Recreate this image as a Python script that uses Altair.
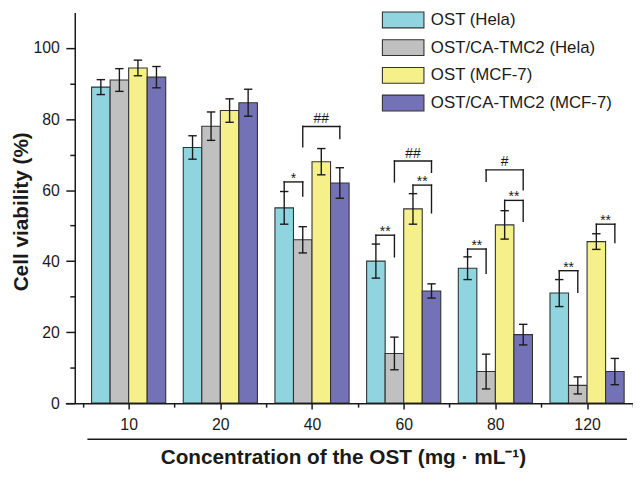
import altair as alt
import pandas as pd

# ---------------- data ----------------
conc = ["10", "20", "40", "60", "80", "120"]
series = ["OST (Hela)", "OST/CA-TMC2 (Hela)", "OST (MCF-7)", "OST/CA-TMC2 (MCF-7)"]
colors = ["#8fd4df", "#c0c0c0", "#f5f08a", "#7472b7"]

ost_hela = [89.0, 72.0, 55.0, 40.0, 38.0, 31.0]
ost_hela_err = [2.1, 3.3, 4.6, 4.8, 3.2, 3.8]
ost_ca_hela = [91.0, 78.0, 46.0, 14.0, 8.9, 5.0]
ost_ca_hela_err = [3.2, 4.0, 3.7, 4.6, 4.9, 2.4]
ost_mcf7 = [94.4, 82.4, 68.0, 54.7, 50.2, 45.5]
ost_mcf7_err = [2.2, 3.3, 3.7, 4.3, 4.0, 2.2]
ost_ca_mcf7 = [91.8, 84.6, 62.0, 31.6, 19.3, 8.9]
ost_ca_mcf7_err = [3.0, 3.8, 4.3, 2.0, 2.9, 3.7]

# significance brackets
sig_conc = ["40", "40", "60", "60", "60", "80", "80", "80", "120", "120"]
sig_from = [0, 1, 0, 1, 2, 0, 1, 2, 0, 2]
sig_to = [1, 3, 1, 3, 3, 1, 3, 3, 1, 3]
sig_top = [62.3, 77.9, 47.3, 68.2, 61.4, 43.4, 65.7, 57.1, 37.3, 50.4]
sig_left_end = [59.6, 72.2, 44.8, 62.3, 59.0, 41.2, 62.5, 54.2, 34.9, 47.9]
sig_right_end = [58.3, 74.5, 41.2, 65.0, 53.6, 36.6, 60.1, 51.2, 31.2, 45.2]
sig_text = ["*", "##", "**", "##", "**", "**", "#", "**", "**", "**"]

# ---------------- layout ----------------
W, H = 574, 395
BAR_FRAC = 0.2022          # width of one bar as a fraction of a group step
X_DOMAIN = [-0.6904, 5.5011]
Y_DOMAIN = [0, 110]
FONT = "Liberation Sans"
INK = "#1a1a1a"

means = [ost_hela, ost_ca_hela, ost_mcf7, ost_ca_mcf7]
errs = [ost_hela_err, ost_ca_hela_err, ost_mcf7_err, ost_ca_mcf7_err]


def center(gi, si):
    return gi + (si - 2) * BAR_FRAC + BAR_FRAC / 2


rows = []
for gi, c in enumerate(conc):
    for si, s in enumerate(series):
        m, e = means[si][gi], errs[si][gi]
        left = gi + (si - 2) * BAR_FRAC
        rows.append(dict(conc=c, series=s, order=si, left=left, right=left + BAR_FRAC,
                         center=center(gi, si), mean=m, lo=m - e, hi=m + e))
bars_df = pd.DataFrame(rows)

segs, labels = [], []
for k in range(len(sig_text)):
    gi = conc.index(sig_conc[k])
    xa, xb = center(gi, sig_from[k]), center(gi, sig_to[k])
    top = sig_top[k]
    segs.append(dict(x=xa, x2=xb, y=top, y2=top))
    segs.append(dict(x=xa, x2=xa, y=sig_left_end[k], y2=top))
    segs.append(dict(x=xb, x2=xb, y=sig_right_end[k], y2=top))
    labels.append(dict(x=(xa + xb) / 2, y=top, mark=sig_text[k]))
seg_df = pd.DataFrame(segs)
lab_df = pd.DataFrame(labels)

xscale = alt.Scale(domain=X_DOMAIN, nice=False, zero=False)
yscale = alt.Scale(domain=Y_DOMAIN, nice=False, zero=False)

x_label_expr = ""
for i, c in enumerate(conc):
    x_label_expr += f"datum.value === {i} ? '{c}' : "
x_label_expr += "''"

xaxis = alt.Axis(
    values=list(range(len(conc))), orient="bottom",
    labelExpr=x_label_expr, tickSize=6,
    grid=False, domainColor=INK, domainWidth=1.5, tickColor=INK, tickWidth=1.5,
    labelFont=FONT, labelFontSize=16, labelColor=INK, labelPadding=8,
    labelFlush=False, labelOverlap=False, labelBound=False,
    title="Concentration of the OST (mg · mL⁻¹)",
    titleFont=FONT, titleFontSize=21, titleFontWeight="bold", titleColor=INK,
    titleX=280.7, titleY=61, titleBaseline="alphabetic", titleAlign="center",
    zindex=1,
)
yaxis = alt.Axis(
    values=list(range(0, 101, 20)), orient="left",
    tickSize=9, offset=-9.5,
    grid=False, domainColor=INK, domainWidth=1.5, tickColor=INK, tickWidth=1.5,
    labelFont=FONT, labelFontSize=16, labelColor=INK, labelPadding=6.5,
    title="Cell viability (%)",
    titleFont=FONT, titleFontSize=21, titleFontWeight="bold", titleColor=INK,
    titleAngle=270, titleX=-47.5, titleY=201, titleBaseline="alphabetic", titleAlign="center",
    zindex=1,
)
# minor ticks (group boundaries on x, odd tens on y)
xaxis_minor = alt.Axis(
    values=[i + 0.5 for i in range(-1, len(conc))], orient="bottom",
    tickSize=4, tickColor=INK, tickWidth=1.5, labels=False, domain=False,
    grid=False, title=None, zindex=1,
)
yaxis_minor = alt.Axis(
    values=list(range(10, 100, 20)), orient="left", offset=-9.5,
    tickSize=5, tickColor=INK, tickWidth=1.5, labels=False, domain=False,
    grid=False, title=None, zindex=1,
)

# legend swatch: 42 x 16 px rectangle drawn by a path on a 16 px symbol
legend = alt.Legend(
    title=None, orient="none", legendX=332.6, legendY=-1.5,
    symbolType="M-2.625,-1H2.625V1H-2.625Z", symbolSize=256,
    symbolStrokeColor="#333333", symbolStrokeWidth=1.1, symbolOpacity=1,
    labelFont=FONT, labelFontSize=17, labelColor=INK, labelOffset=19,
    rowPadding=6, padding=0, labelLimit=400,
)

bars = alt.Chart(bars_df).mark_bar(stroke="#333333", strokeWidth=1.1, opacity=1).encode(
    x=alt.X("left:Q", scale=xscale, axis=xaxis),
    x2="right:Q",
    y=alt.Y("mean:Q", scale=yscale, axis=yaxis),
    y2=alt.datum(0),
    color=alt.Color("series:N", scale=alt.Scale(domain=series, range=colors), legend=legend),
    order=alt.Order("order:Q"),
)

err_line = alt.Chart(bars_df).mark_rule(color=INK, strokeWidth=1.4).encode(
    x=alt.X("center:Q", scale=xscale, axis=xaxis_minor),
    y=alt.Y("lo:Q", scale=yscale, axis=yaxis_minor),
    y2="hi:Q",
)
cap_hi = alt.Chart(bars_df).mark_tick(orient="horizontal", size=8.5, thickness=1.4, color=INK, opacity=1).encode(
    x=alt.X("center:Q", scale=xscale, axis=None),
    y=alt.Y("hi:Q", scale=yscale, axis=None),
)
cap_lo = alt.Chart(bars_df).mark_tick(orient="horizontal", size=8.5, thickness=1.4, color=INK, opacity=1).encode(
    x=alt.X("center:Q", scale=xscale, axis=None),
    y=alt.Y("lo:Q", scale=yscale, axis=None),
)

brackets = alt.Chart(seg_df).mark_rule(color=INK, strokeWidth=1.4, strokeCap="square").encode(
    x=alt.X("x:Q", scale=xscale, axis=None),
    x2="x2:Q",
    y=alt.Y("y:Q", scale=yscale, axis=None),
    y2="y2:Q",
)
stars = alt.Chart(lab_df).transform_filter("indexof(datum.mark, '*') >= 0").mark_text(
    font=FONT, fontSize=14, color=INK, baseline="alphabetic", align="center", dy=1
).encode(
    x=alt.X("x:Q", scale=xscale, axis=None),
    y=alt.Y("y:Q", scale=yscale, axis=None),
    text="mark:N",
)
hashes = alt.Chart(lab_df).transform_filter("indexof(datum.mark, '#') >= 0").mark_text(
    font=FONT, fontSize=14, color=INK, baseline="alphabetic", align="center", dy=-3.5
).encode(
    x=alt.X("x:Q", scale=xscale, axis=None),
    y=alt.Y("y:Q", scale=yscale, axis=None),
    text="mark:N",
)

underline = alt.Chart(pd.DataFrame({"k": [0]})).mark_rule(color=INK, strokeWidth=1.5).encode(
    x=alt.datum(-0.45, scale=xscale, axis=None),
    x2=alt.datum(5.435),
    y=alt.value(H + 36.5),
)

chart = alt.layer(bars, err_line, cap_hi, cap_lo, brackets, stars, hashes, underline).resolve_axis(
    x="independent", y="independent"
).properties(
    width=W, height=H,
    padding={"left": 58, "top": 2, "right": 0, "bottom": 65},
    autosize=alt.AutoSizeParams(type="none"),
    background="white",
).configure(font=FONT).configure_view(stroke=None)

chart.save("out.html", embed_options={"renderer": "svg", "actions": False})
